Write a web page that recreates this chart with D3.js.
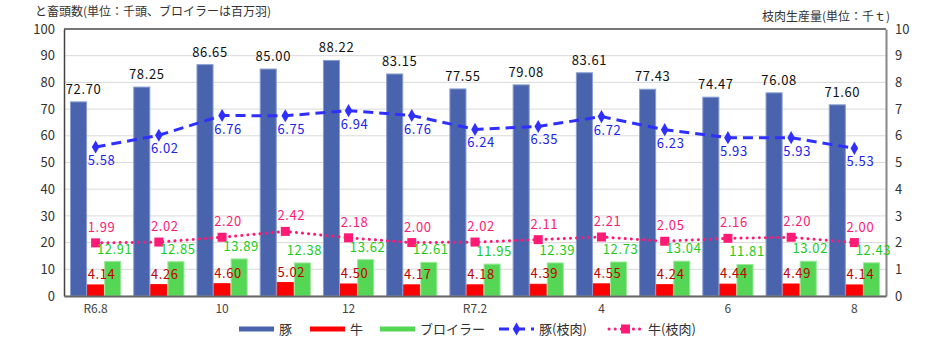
<!DOCTYPE html>
<html>
<head>
<meta charset="utf-8">
<script src="https://cdn.jsdelivr.net/npm/d3@7"></script>
<style>
  body { margin: 0; background: #fff; }
  text { font-family: "Noto Sans CJK JP", "Noto Sans", sans-serif; }
</style>
</head>
<body>
<svg id="chart" width="932" height="348"></svg>
<script>
const months = ["R6.8", "9", "10", "11", "12", "R7.1", "R7.2", "3", "4", "5", "6", "7", "8"];
const tickLabels = ["R6.8", "", "10", "", "12", "", "R7.2", "", "4", "", "6", "", "8"];
const pigHeads = [72.70, 78.25, 86.65, 85.00, 88.22, 83.15, 77.55, 79.08, 83.61, 77.43, 74.47, 76.08, 71.60];
const cattleHeads = [4.14, 4.26, 4.60, 5.02, 4.50, 4.17, 4.18, 4.39, 4.55, 4.24, 4.44, 4.49, 4.14];
const broilers = [12.91, 12.85, 13.89, 12.38, 13.62, 12.61, 11.95, 12.39, 12.73, 13.04, 11.81, 13.02, 12.43];
const pigMeat = [5.58, 6.02, 6.76, 6.75, 6.94, 6.76, 6.24, 6.35, 6.72, 6.23, 5.93, 5.93, 5.53];
const cattleMeat = [1.99, 2.02, 2.20, 2.42, 2.18, 2.00, 2.02, 2.11, 2.21, 2.05, 2.16, 2.20, 2.00];

const svg = d3.select("#chart");
const plotLeft = 64, plotRight = 886, plotTop = 29, plotBottom = 296;

const x = d3.scaleBand().domain(months).range([plotLeft, plotRight]).paddingInner(0.19).paddingOuter(0.095);
const xs = d3.scaleBand().domain(["pig", "cattle", "broiler"]).range([0, x.bandwidth()]);
const yL = d3.scaleLinear().domain([0, 100]).range([plotBottom, plotTop]);
const yR = d3.scaleLinear().domain([0, 10]).range([plotBottom, plotTop]);
const cx = (m) => x(m) + x.bandwidth() / 2;

const colors = {
  pig: "#4964ad", cattle: "#ff0000", broiler: "#55d655",
  pigMeat: "#2f2fff", cattleMeat: "#ff1a75"
};
const outline = { pig: "#8a9dd0", cattle: "#ff0000", broiler: "#9be89b" };

// gridlines
svg.append("g")
  .selectAll("line")
  .data(yL.ticks(10))
  .join("line")
  .attr("x1", plotLeft).attr("x2", plotRight)
  .attr("y1", (d) => yL(d)).attr("y2", (d) => yL(d))
  .attr("stroke", "#d9d9d9");

// frame
svg.append("line").attr("x1", plotLeft).attr("x2", plotRight).attr("y1", plotTop).attr("y2", plotTop).attr("stroke", "#000");

// bars
const series = [
  { key: "pig", values: pigHeads },
  { key: "cattle", values: cattleHeads },
  { key: "broiler", values: broilers }
];
series.forEach((s) => {
  svg.append("g")
    .selectAll("rect")
    .data(months)
    .join("rect")
    .attr("x", (m) => x(m) + xs(s.key) + 0.5)
    .attr("width", xs.bandwidth() - 1)
    .attr("y", (m, i) => yL(s.values[i]))
    .attr("height", (m, i) => plotBottom - yL(s.values[i]))
    .attr("fill", colors[s.key])
    .attr("stroke", outline[s.key])
    .attr("stroke-width", 1);
});

// axes
const axisL = svg.append("g")
  .attr("transform", `translate(${plotLeft},0)`)
  .call(d3.axisLeft(yL).ticks(10).tickSize(0).tickPadding(9));
const axisR = svg.append("g")
  .attr("transform", `translate(${plotRight},0)`)
  .call(d3.axisRight(yR).ticks(10).tickSize(0).tickPadding(9));
const axisB = svg.append("g")
  .attr("transform", `translate(0,${plotBottom})`)
  .call(d3.axisBottom(x).tickSize(0).tickPadding(8).tickFormat((d, i) => tickLabels[i]));
[axisL, axisR, axisB].forEach((a) => {
  a.selectAll("text").attr("font-size", 13).attr("fill", "#333")
    .attr("font-family", '"Liberation Sans", "Noto Sans CJK JP", sans-serif');
});
axisB.selectAll("text").attr("font-size", 12).attr("fill", "#444");
axisL.select(".domain").attr("stroke", "#444").attr("stroke-width", 1.5);
axisR.select(".domain").attr("stroke", "#888").attr("stroke-width", 2);
axisB.select(".domain").attr("stroke", "#666").attr("stroke-width", 2);

// lines
const meatLine = d3.line().x((d, i) => cx(months[i])).y((d) => yR(d));
svg.append("path")
  .attr("d", meatLine(pigMeat))
  .attr("fill", "none")
  .attr("stroke", colors.pigMeat)
  .attr("stroke-width", 3)
  .attr("stroke-dasharray", "10,6");
svg.append("g")
  .selectAll("path")
  .data(pigMeat)
  .join("path")
  .attr("d", d3.symbol(d3.symbolDiamond, 50))
  .attr("transform", (d, i) => `translate(${cx(months[i])},${yR(d)})`)
  .attr("fill", colors.pigMeat);

svg.append("path")
  .attr("d", meatLine(cattleMeat))
  .attr("fill", "none")
  .attr("stroke", colors.cattleMeat)
  .attr("stroke-width", 3)
  .attr("stroke-linecap", "round")
  .attr("stroke-dasharray", "0.1,6");
svg.append("g")
  .selectAll("rect")
  .data(cattleMeat)
  .join("rect")
  .attr("x", (d, i) => cx(months[i]) - 4.5)
  .attr("y", (d) => yR(d) - 4.5)
  .attr("width", 9).attr("height", 9)
  .attr("fill", colors.cattleMeat);

// value labels
const labelFont = '"Noto Sans CJK JP", sans-serif';
function labels(values, fx, fy, color) {
  svg.append("g")
    .selectAll("text")
    .data(values)
    .join("text")
    .attr("x", (d, i) => fx(months[i]))
    .attr("y", (d) => fy(d))
    .attr("text-anchor", "middle")
    .attr("font-size", 13)
    .attr("letter-spacing", 0.6)
    .attr("font-family", labelFont)
    .attr("fill", color)
    .text((d) => d.toFixed(2));
}
labels(pigHeads, (m) => x(m) + xs("pig") + xs.bandwidth() / 2 + 5, (d) => yL(d) - 8, "#111");
labels(cattleHeads, (m) => x(m) + xs("cattle") + xs.bandwidth() / 2 + 6, (d) => yL(d) - 6, "#c00000");
labels(broilers, (m) => x(m) + xs("broiler") + xs.bandwidth() / 2 + 2, (d) => yL(d) - 8, "#1ccc1c");
labels(pigMeat, (m) => cx(m) + 6, (d) => yR(d) + 18, "#2222ee");
labels(cattleMeat, (m) => cx(m) + 6, (d) => yR(d) - 11, colors.cattleMeat);

// axis titles
svg.append("text").attr("x", 35).attr("y", 16).attr("font-size", 12).attr("fill", "#333")
  .text("と畜頭数(単位：千頭、ブロイラーは百万羽)");
svg.append("text").attr("x", 890).attr("y", 21).attr("text-anchor", "end").attr("font-size", 12).attr("fill", "#333")
  .text("枝肉生産量(単位：千ｔ)");

// legend
const legendY = 329;
const legendItems = [
  { name: "豚", x: 239, type: "bar", color: colors.pig },
  { name: "牛", x: 310, type: "bar", color: colors.cattle },
  { name: "ブロイラー", x: 380, type: "bar", color: colors.broiler },
  { name: "豚(枝肉)", x: 499, type: "pig", color: colors.pigMeat },
  { name: "牛(枝肉)", x: 608, type: "cattle", color: colors.cattleMeat }
];
const lg = svg.append("g").selectAll("g").data(legendItems).join("g")
  .attr("transform", (d) => `translate(${d.x},${legendY})`);
lg.filter((d) => d.type === "bar").append("rect")
  .attr("x", 0).attr("y", -2.5).attr("width", 35).attr("height", 5).attr("fill", (d) => d.color);
lg.filter((d) => d.type === "pig").append("line")
  .attr("x1", 0).attr("x2", 35).attr("stroke", (d) => d.color).attr("stroke-width", 3)
  .attr("stroke-dasharray", "10,6");
lg.filter((d) => d.type === "pig").append("path")
  .attr("d", d3.symbol(d3.symbolDiamond, 50)).attr("transform", "translate(17.5,0)")
  .attr("fill", (d) => d.color);
lg.filter((d) => d.type === "cattle").append("line")
  .attr("x1", 1).attr("x2", 35).attr("stroke", (d) => d.color).attr("stroke-width", 3)
  .attr("stroke-linecap", "round").attr("stroke-dasharray", "0.1,6");
lg.filter((d) => d.type === "cattle").append("rect")
  .attr("x", 13).attr("y", -4.5).attr("width", 9).attr("height", 9)
  .attr("fill", (d) => d.color);
lg.append("text")
  .attr("x", 40).attr("y", 5).attr("font-size", 13).attr("fill", "#333")
  .text((d) => d.name);
</script>
</body>
</html>
